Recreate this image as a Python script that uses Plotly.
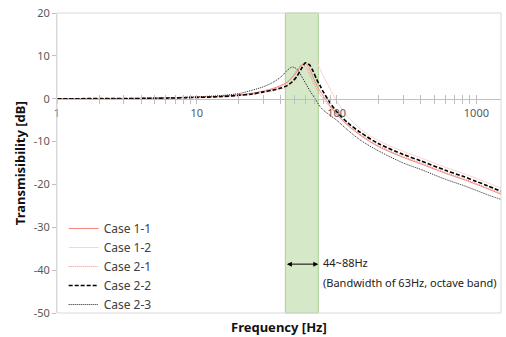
import plotly.graph_objects as go
import math

freq = [1, 2, 5, 10, 15, 20, 25, 30, 35, 40, 44, 48, 52, 56, 60, 64, 68, 72, 76, 80,
        90, 100, 120, 150, 200, 300, 400, 600, 800, 1000, 1200, 1500]

case_1_1 = [0, 0.02, 0.1, 0.35, 0.6, 0.9, 1.3, 1.8, 2.4, 3.1, 3.8, 4.9, 6.3, 7.8, 8.3, 7.0,
            5.0, 3.2, 1.8, 0.7, -1.7, -3.6, -6.2, -8.7, -11.2, -13.7, -15.2, -17.4, -18.8,
            -20.0, -21.0, -22.3]
case_1_2 = [0, 0.02, 0.1, 0.28, 0.45, 0.7, 1.0, 1.4, 1.8, 2.3, 2.7, 3.3, 4.1, 5.0, 6.3, 7.8,
            8.9, 8.5, 7.0, 5.4, 2.3, -0.5, -4.2, -7.2, -9.8, -12.3, -13.8, -16.0, -17.4,
            -18.6, -19.6, -20.9]
case_2_1 = [0, 0.02, 0.1, 0.32, 0.55, 0.85, 1.2, 1.7, 2.2, 2.8, 3.6, 5.0, 6.7, 7.9, 7.5, 5.8,
            3.9, 2.3, 1.0, 0.0, -2.0, -3.6, -6.1, -8.5, -11.0, -13.5, -15.0, -17.2, -18.6,
            -19.8, -20.8, -22.0]
case_2_2 = [0, 0.02, 0.1, 0.3, 0.5, 0.8, 1.1, 1.6, 2.0, 2.5, 3.0, 3.9, 5.2, 7.0, 8.4, 7.9,
            6.4, 4.5, 3.1, 1.7, -1.0, -3.0, -5.6, -8.0, -10.5, -13.0, -14.5, -16.7, -18.1,
            -19.3, -20.3, -21.6]
case_2_3 = [0, 0.03, 0.15, 0.45, 0.75, 1.2, 2.0, 2.8, 3.8, 5.1, 6.5, 7.4, 6.9, 5.3, 3.6, 2.0,
            0.7, -0.6, -1.8, -2.6, -3.9, -5.0, -7.3, -9.8, -12.2, -15.0, -16.5, -18.8, -20.2,
            -21.4, -22.4, -23.5]

band_lo, band_hi = 43, 74
y_ticks = [-50, -40, -30, -20, -10, 0, 10, 20]
y_ticktext = [str(v) for v in y_ticks]
x_decades = [1, 10, 100, 1000]
x_minor = [m * d for d in [1, 10, 100, 1000] for m in range(1, 10) if m * d <= 1500]
x_ticktext = [str(v) if v in x_decades else "" for v in x_minor]

fig = go.Figure()

series = [
    ("Case 1-1", case_1_1, dict(color="#f4877f", width=1, dash="solid")),
    ("Case 1-2", case_1_2, dict(color="#fcd3cf", width=1, dash="solid")),
    ("Case 2-1", case_2_1, dict(color="#f08a84", width=1, dash="1px,1px")),
    ("Case 2-2", case_2_2, dict(color="#000000", width=1.6, dash="4px,2px")),
    ("Case 2-3", case_2_3, dict(color="#222222", width=1, dash="1px,1px")),
]
for name, ys, ln in series:
    fig.add_trace(go.Scatter(x=freq, y=ys, name=name, mode="lines",
                             line=dict(shape="spline", smoothing=0.8, **ln)))

# dummy trace for inside ticks axis
fig.add_trace(go.Scatter(x=[1, 1500], y=[0, 0], xaxis="x2", mode="lines",
                         line=dict(width=0), showlegend=False, hoverinfo="skip"))

xr = [0, math.log10(1500)]
pos0 = (0 - (-50)) / 70

fig.update_layout(
    width=506, height=337,
    margin=dict(l=57, r=5, t=13, b=24),
    paper_bgcolor="white", plot_bgcolor="white",
    font=dict(family="Noto Sans", size=11, color="#595959"),
    xaxis=dict(type="log", range=xr, anchor="free", position=pos0,
               tickvals=x_minor, ticktext=x_ticktext, ticks="outside", ticklen=4,
               tickcolor="#bfbfbf", showline=True, linecolor="#bfbfbf", linewidth=1,
               showgrid=False, zeroline=False, tickfont=dict(size=11, color="#595959")),
    xaxis2=dict(type="log", range=xr, anchor="free", position=pos0, overlaying="x",
                tickvals=x_minor, showticklabels=False, ticks="inside", ticklen=4,
                tickcolor="#bfbfbf", showline=False, showgrid=False, zeroline=False),
    yaxis=dict(range=[-50, 20], tickvals=y_ticks, ticktext=y_ticktext, ticks="outside",
               ticklen=4, tickcolor="#bfbfbf", showline=True, linecolor="#d9d9d9",
               showgrid=False, zeroline=False, tickfont=dict(size=11, color="#595959")),
    legend=dict(x=0.015, y=0.33, xanchor="left", yanchor="top", bgcolor="rgba(0,0,0,0)",
                font=dict(size=12, color="#404040"), tracegroupgap=0, itemwidth=30),
    showlegend=True,
)

fig.add_shape(type="rect", xref="x", yref="paper", x0=band_lo, x1=band_hi, y0=0, y1=1,
              fillcolor="#d5e8c8", line=dict(color="#a9d08e", width=1), layer="below")
fig.add_shape(type="rect", xref="paper", yref="paper", x0=0, x1=1, y0=0, y1=1,
              line=dict(color="#d9d9d9", width=1))

fig.add_annotation(x=math.log10(band_hi), y=-38.6, ax=math.log10(band_lo), ay=-38.6,
                   xref="x", yref="y", axref="x", ayref="y", text="",
                   showarrow=True, arrowhead=2, startarrowhead=2, arrowside="end+start",
                   arrowsize=1, arrowwidth=1, arrowcolor="black")
fig.add_annotation(x=math.log10(band_hi) + 0.02, y=-38.2, xref="x", yref="y",
                   text="44~88Hz", showarrow=False, xanchor="left",
                   font=dict(size=11, color="#222222"))
fig.add_annotation(x=math.log10(band_hi) + 0.02, y=-42.8, xref="x", yref="y",
                   text="(Bandwidth of 63Hz, octave band)", showarrow=False, xanchor="left",
                   font=dict(size=11, color="#222222"))

fig.add_annotation(x=0.5, y=-0.047, xref="paper", yref="paper", yanchor="middle",
                   text="<b>Frequency [Hz]</b>", showarrow=False,
                   font=dict(size=13, color="#111111"))
fig.add_annotation(x=-0.083, y=0.5, xref="paper", yref="paper", textangle=-90,
                   xanchor="center", yanchor="middle",
                   text="<b>Transmisibility [dB]</b>", showarrow=False,
                   font=dict(size=13, color="#111111"))

fig.write_html("out.html")
